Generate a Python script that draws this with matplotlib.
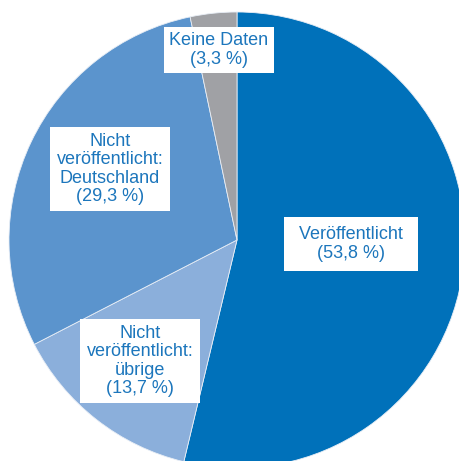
import matplotlib.pyplot as plt

# Anteile in Prozent, im Uhrzeigersinn ab 12 Uhr
labels = [
    " Veröffentlicht ",
    "Nicht\nveröffentlicht:\nübrige",
    "Nicht\nveröffentlicht:\nDeutschland",
    "Keine Daten",
]
shares = [53.8, 13.7, 29.3, 3.3]
colors = ["#0071BA", "#8BAFDB", "#5B94CD", "#A0A1A5"]

W, H = 459, 461
fig = plt.figure(figsize=(W / 100, H / 100), dpi=100)
ax = fig.add_axes([0, 0, 1, 1])

# Mittelpunkt und Radius in Pixeln (y von oben gezählt)
cx, cy, r = 237, 240, 228
ax.pie(
    shares,
    colors=colors,
    startangle=90,
    counterclock=False,
    center=(cx, H - cy),
    radius=r,
    wedgeprops=dict(linewidth=0.6, edgecolor="#e8eef6"),
    frame=True,
)
ax.set_xlim(0, W)
ax.set_ylim(0, H)
ax.axis("off")

# Beschriftungspositionen (Pixel) und Innenabstand der weißen Kästen
label_pos = [(351, 244, 5.0), (140, 361, 3.5), (110, 169, 3.5), (219, 50, 3.0)]
for lab, val, (px, py, pad) in zip(labels, shares, label_pos):
    txt = f"{lab}\n({val:.1f} %)".replace(".", ",")
    ax.text(
        px,
        H - py,
        txt,
        ha="center",
        va="center",
        multialignment="center",
        fontsize=13,
        family=["Liberation Sans", "DejaVu Sans"],
        color="#1C76BC",
        linespacing=1.08,
        bbox=dict(boxstyle=f"square,pad={pad / 13 * 100 / 72:.2f}", fc="white", ec="none"),
    )

plt.savefig("out.png", dpi=100)
